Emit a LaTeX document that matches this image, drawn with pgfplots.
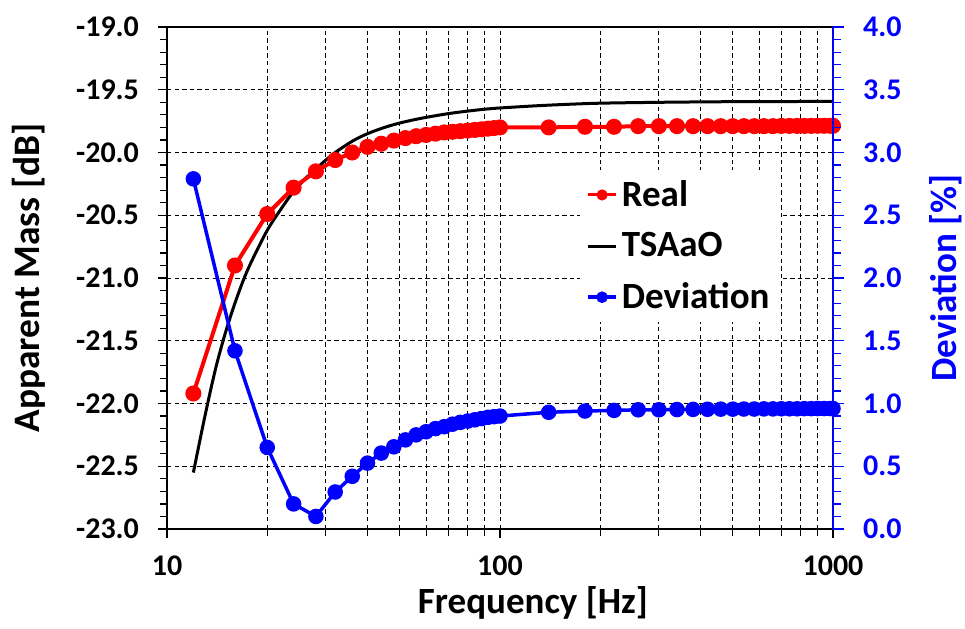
\documentclass[border=0pt]{standalone}
\usepackage{fontspec}
\setmainfont{Carlito}
\usepackage{pgfplots}
\pgfplotsset{compat=1.18}
\usepackage{pgfplotstable}

\pgfplotstableread{
f v
12 -21.92
16 -20.90
20 -20.49
24 -20.28
28 -20.15
32 -20.06
36 -20.00
40 -19.955
44 -19.93
48 -19.905
52 -19.885
56 -19.87
60 -19.86
64 -19.85
68 -19.84
72 -19.835
76 -19.83
80 -19.825
84 -19.82
88 -19.815
92 -19.81
96 -19.805
100 -19.80
140 -19.80
180 -19.795
220 -19.795
260 -19.79
300 -19.79
340 -19.79
380 -19.79
420 -19.79
460 -19.79
500 -19.79
540 -19.79
580 -19.79
620 -19.79
660 -19.79
700 -19.788
740 -19.788
780 -19.788
820 -19.788
860 -19.788
900 -19.787
940 -19.787
980 -19.787
1000 -19.787
}\realdata

\pgfplotstableread{
f v
12 -22.55
13 -22.10
14 -21.72
15 -21.43
16 -21.20
17 -21.01
18 -20.86
20 -20.62
22 -20.45
24 -20.31
26 -20.21
28 -20.13
30 -20.06
32 -20.00
36 -19.91
40 -19.85
45 -19.80
50 -19.765
55 -19.74
60 -19.72
70 -19.69
80 -19.67
90 -19.655
100 -19.645
130 -19.627
160 -19.616
200 -19.607
300 -19.60
500 -19.595
1000 -19.593
}\tsadata

\pgfplotstableread{
f v
12 2.79
16 1.42
20 0.65
24 0.20
28 0.10
32 0.295
36 0.42
40 0.525
44 0.605
48 0.655
52 0.71
56 0.75
60 0.775
64 0.80
68 0.815
72 0.835
76 0.85
80 0.86
84 0.87
88 0.88
92 0.89
96 0.895
100 0.90
140 0.93
180 0.94
220 0.945
260 0.95
300 0.95
340 0.952
380 0.953
420 0.954
460 0.955
500 0.955
540 0.956
580 0.956
620 0.957
660 0.957
700 0.958
740 0.958
780 0.958
820 0.959
860 0.959
900 0.96
940 0.96
980 0.96
1000 0.96
}\devdata

\begin{document}
\begin{tikzpicture}
\pgfplotsset{
  every axis/.append style={
    scale only axis, width=333pt, height=251pt,
    xmode=log, xmin=10, xmax=1000,
    log basis x=10,
  },
}
\begin{axis}[
  ymin=-23, ymax=-19,
  ytick={-23,-22.5,...,-19},
  minor y tick num=4,
  xtick={10,100,1000},
  xticklabels={10,100,1000},
  minor xtick={20,30,40,50,60,70,80,90,200,300,400,500,600,700,800,900},
  xtick pos=bottom, ytick pos=left,
  tick align=outside,
  major tick length=4.5pt, minor tick length=3.5pt,
  axis line style={line width=0.75pt},
  every tick/.style={black, line width=0.6pt},
  xmajorgrids, xminorgrids, ymajorgrids,
  grid style={black, line width=0.5pt, dash pattern=on 2.2pt off 1.6pt},
  minor grid style={black, line width=0.5pt, dash pattern=on 2.2pt off 1.6pt},
  /pgf/number format/assume math mode=true,
  yticklabel style={/pgf/number format/.cd, fixed, fixed zerofill, precision=1},
  tick label style={font=\bfseries\fontsize{15}{17}\selectfont},
  xticklabel shift=5.5pt,
  yticklabel shift=6pt,
  xlabel={Frequency [Hz]},
  ylabel={Apparent Mass [dB]},
  xlabel style={font=\bfseries\fontsize{18.5}{21}\selectfont, at={(axis description cs:0.5495,0)}, anchor=center, yshift=-37pt},
  ylabel style={font=\bfseries\fontsize{18.7}{21}\selectfont, at={(axis description cs:-0.208,0.5)}, anchor=center},
]
\addplot[black, line width=1.5pt, smooth, tension=0.5] table[x=f, y=v] {\tsadata};
\addplot[red, line width=2pt, mark=*, mark size=3pt, mark options={solid}] table[x=f, y=v] {\realdata};
\end{axis}
\begin{axis}[
  ymin=0, ymax=4,
  ytick={0,0.5,...,4},
  minor y tick num=4,
  axis x line=none,
  axis y line*=right,
  tick align=outside,
  major tick length=5.5pt, minor tick length=4pt,
  axis line style={blue, line width=0.75pt},
  every tick/.style={blue, line width=0.6pt},
  /pgf/number format/assume math mode=true,
  yticklabel style={/pgf/number format/.cd, fixed, fixed zerofill, precision=1},
  tick label style={font=\bfseries\fontsize{15}{17}\selectfont, text=blue},
  yticklabel shift=6pt,
  ylabel={Deviation [\%]},
  ylabel style={font=\bfseries\fontsize{18.5}{21}\selectfont, text=blue, at={(axis description cs:1.1697,0.5)}, anchor=center},
  legend style={at={(0.62,0.715)}, anchor=north west, draw=none, fill=white,
    font=\bfseries\fontsize{18.5}{20}\selectfont, row sep=7.5pt, inner xsep=3pt, inner ysep=3pt},
  legend cell align=left,
  legend image code/.code={\draw[mark repeat=2,mark phase=2,#1] plot coordinates {(0pt,0pt)(7pt,0pt)(14pt,0pt)};},
]
\addlegendimage{red, line width=1.5pt, mark=*, mark size=2pt}
\addlegendentry{Real}
\addlegendimage{black, line width=1.5pt}
\addlegendentry{TSAaO}
\addplot[blue, line width=1.75pt, mark=*, mark size=3pt, legend image post style={mark size=2pt}] table[x=f, y=v] {\devdata};
\addlegendentry{Deviation}
\end{axis}
\pgfresetboundingbox
\path[use as bounding box] (-83.5pt,-49.5pt) rectangle (399pt,264.5pt);
\end{tikzpicture}
\end{document}
